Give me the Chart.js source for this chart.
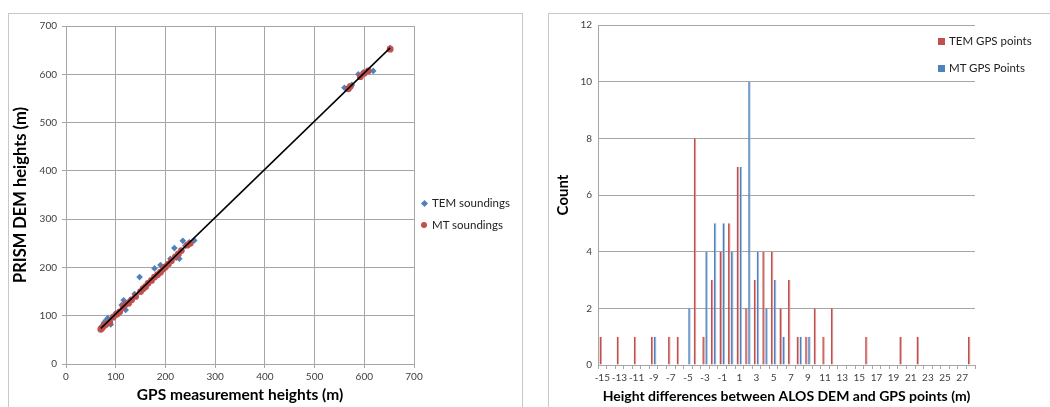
<!DOCTYPE html>
<html>
<head>
<meta charset="utf-8">
<script src="https://cdn.jsdelivr.net/npm/chart.js@4.4.0/dist/chart.umd.min.js"></script>
<style>
  body { margin: 0; background: #fff; width: 1050px; height: 407px; overflow: hidden; font-family: Lato, "Open Sans", sans-serif; position: relative; }
  .frame { position: absolute; border: 1px solid #c8c8c8; box-sizing: border-box; }
  .cv { position: absolute; }
  .legend { position: absolute; font-size: 11.5px; color: #222; }
  .legend div { position: absolute; white-space: nowrap; line-height: 14px; }
  .diamond { display: inline-block; width: 5px; height: 5px; background: #4f81bd; transform: rotate(45deg); margin: 0 5px 1px 1px; }
  .dot { display: inline-block; width: 6px; height: 6px; border-radius: 50%; background: #c0504d; margin: 0 5px 1px 0; }
  .sq { display: inline-block; width: 7px; height: 7px; margin-right: 4px; }
</style>
</head>
<body>
<div class="frame" style="left:8px;top:13px;width:515px;height:420px;"></div>
<div class="frame" style="left:548px;top:13px;width:520px;height:420px;"></div>

<canvas id="scatter" class="cv" style="left:8px;top:13px;" width="514" height="394"></canvas>
<canvas id="hist" class="cv" style="left:548px;top:13px;" width="502" height="394"></canvas>

<div class="legend">
  <div style="left:421px;top:196px;"><span class="diamond"></span>TEM soundings</div>
  <div style="left:421px;top:218px;"><span class="dot"></span>MT soundings</div>
  <div style="left:938px;top:34px;"><span class="sq" style="background:#c0504d"></span>TEM GPS points</div>
  <div style="left:938px;top:61px;"><span class="sq" style="background:#4f81bd"></span>MT GPS Points</div>
</div>

<script>
// GPS heights vs PRISM DEM heights (m)
const temGps = [72, 76, 80, 84, 90, 100, 106, 112, 116, 120, 125, 130, 138, 148, 152, 160, 165, 172, 178, 184, 190, 196, 202, 210, 218, 222, 228, 235, 240, 248, 258, 560, 575, 588, 598, 618, 652];
const temDem = [78, 85, 90, 95, 82, 105, 104, 122, 132, 112, 128, 133, 145, 180, 152, 160, 168, 175, 198, 185, 205, 195, 205, 218, 240, 220, 218, 255, 245, 252, 256, 572, 578, 600, 604, 607, 655];
const mtGps = [70, 73, 76, 80, 88, 95, 102, 108, 115, 120, 126, 132, 140, 150, 155, 160, 165, 172, 178, 184, 190, 196, 200, 206, 212, 220, 226, 232, 244, 250, 568, 572, 592, 600, 608, 652];
const mtDem = [72, 75, 79, 82, 86, 97, 103, 108, 118, 124, 126, 133, 140, 150, 156, 160, 167, 173, 180, 185, 190, 198, 201, 207, 214, 222, 228, 235, 246, 250, 570, 575, 595, 602, 607, 652];

// ALOS DEM minus GPS height, 1 m bins
const diffBins = [-15, -14, -13, -12, -11, -10, -9, -8, -7, -6, -5, -4, -3, -2, -1, 0, 1, 2, 3, 4, 5, 6, 7, 8, 9, 10, 11, 12, 13, 14, 15, 16, 17, 18, 19, 20, 21, 22, 23, 24, 25, 26, 27, 28];
const temCounts = [1, 0, 1, 0, 1, 0, 1, 0, 1, 1, 0, 8, 1, 3, 4, 5, 7, 2, 3, 4, 4, 2, 3, 1, 1, 2, 1, 2, 0, 0, 0, 1, 0, 0, 0, 1, 0, 1, 0, 0, 0, 0, 0, 1];
const mtCounts  = [0, 0, 0, 0, 0, 0, 1, 0, 0, 0, 2, 0, 4, 5, 5, 4, 7, 10, 4, 2, 3, 1, 0, 1, 1, 0, 0, 0, 0, 0, 0, 0, 0, 0, 0, 0, 0, 0, 0, 0, 0, 0, 0, 0];

const RED = '#c0504d';
const BLUE = '#4f81bd';
const GRID = '#a6a6a6';
const TICK = '#404040';
const FONT = 'Lato, "Open Sans", sans-serif';

Chart.defaults.font.family = FONT;
Chart.defaults.animation = false;

const pairs = (xs, ys) => xs.map((x, i) => ({ x: x, y: ys[i] }));

// least-squares fit over both sounding sets
function trend() {
  const xs = temGps.concat(mtGps);
  const ys = temDem.concat(mtDem);
  const n = xs.length;
  let sx = 0, sy = 0, sxx = 0, sxy = 0;
  for (let i = 0; i < n; i++) {
    sx += xs[i]; sy += ys[i]; sxx += xs[i] * xs[i]; sxy += xs[i] * ys[i];
  }
  const b = (n * sxy - sx * sy) / (n * sxx - sx * sx);
  const a = (sy - b * sx) / n;
  const lo = Math.min(...xs), hi = Math.max(...xs);
  return [{ x: lo, y: a + b * lo }, { x: hi, y: a + b * hi }];
}

new Chart(document.getElementById('scatter'), {
  type: 'scatter',
  data: {
    datasets: [
      { type: 'line', data: trend(), borderColor: '#000', borderWidth: 1.5, pointRadius: 0, showLine: true },
      { label: 'MT soundings', data: pairs(mtGps, mtDem), pointStyle: 'circle', pointRadius: 3.4, backgroundColor: RED, borderColor: RED, borderWidth: 0 },
      { label: 'TEM soundings', data: pairs(temGps, temDem), pointStyle: 'rectRot', pointRadius: 3.3, backgroundColor: BLUE, borderColor: BLUE, borderWidth: 0 }
    ]
  },
  options: {
    responsive: false,
    layout: { padding: { top: 13, right: 108, bottom: 0, left: 0 } },
    plugins: { legend: { display: false }, tooltip: { enabled: false } },
    scales: {
      x: {
        type: 'linear', min: 0, max: 700,
        ticks: { stepSize: 100, color: TICK, font: { size: 10 }, padding: 3 },
        grid: { color: GRID, tickLength: 4 },
        border: { color: GRID },
        title: { display: true, text: 'GPS measurement heights (m)', color: '#000', font: { size: 15.5, weight: 'bold' }, padding: { top: 2, bottom: 3 } },
        afterFit(s) { s.height = 43; }
      },
      y: {
        type: 'linear', min: 0, max: 700,
        ticks: { stepSize: 100, color: TICK, font: { size: 10 }, padding: 5 },
        grid: { color: GRID, tickLength: 4 },
        border: { color: GRID },
        title: { display: true, text: 'PRISM DEM heights (m)', color: '#000', font: { size: 16.5, weight: 'bold' }, padding: { top: 3, bottom: 2 } },
        afterFit(s) { s.width = 58; }
      }
    }
  }
});

new Chart(document.getElementById('hist'), {
  type: 'bar',
  data: {
    labels: diffBins,
    datasets: [
      { label: 'TEM GPS points', data: temCounts, backgroundColor: RED, borderColor: '#e0a09e', borderWidth: { right: 1 }, categoryPercentage: 0.7, barPercentage: 0.85 },
      { label: 'MT GPS Points', data: mtCounts, backgroundColor: BLUE, borderColor: '#a7c0de', borderWidth: { right: 1 }, categoryPercentage: 0.7, barPercentage: 0.85 }
    ]
  },
  options: {
    responsive: false,
    layout: { padding: { top: 12, right: 75, bottom: 0, left: 0 } },
    plugins: { legend: { display: false }, tooltip: { enabled: false } },
    scales: {
      x: {
        ticks: {
          autoSkip: false, maxRotation: 0, color: TICK, font: { size: 10 }, padding: 3,
          callback: (v, i) => (diffBins[i] % 2 !== 0 ? String(diffBins[i]) : '')
        },
        grid: { display: true, drawOnChartArea: false, color: GRID, tickLength: 4 },
        border: { color: GRID },
        title: { display: true, text: 'Height differences between ALOS DEM and GPS points (m)', color: '#000', font: { size: 14, weight: 'bold' }, padding: { top: 2, bottom: 2 } },
        afterFit(s) { s.height = 42; }
      },
      y: {
        min: 0, max: 12,
        ticks: { stepSize: 2, color: TICK, font: { size: 10 }, padding: 6 },
        grid: { color: GRID, tickLength: 0 },
        border: { color: GRID },
        title: { display: true, text: 'Count', color: '#000', font: { size: 15, weight: 'bold' }, padding: { top: 6, bottom: 2 } },
        afterFit(s) { s.width = 50; }
      }
    }
  }
});
</script>
</body>
</html>
